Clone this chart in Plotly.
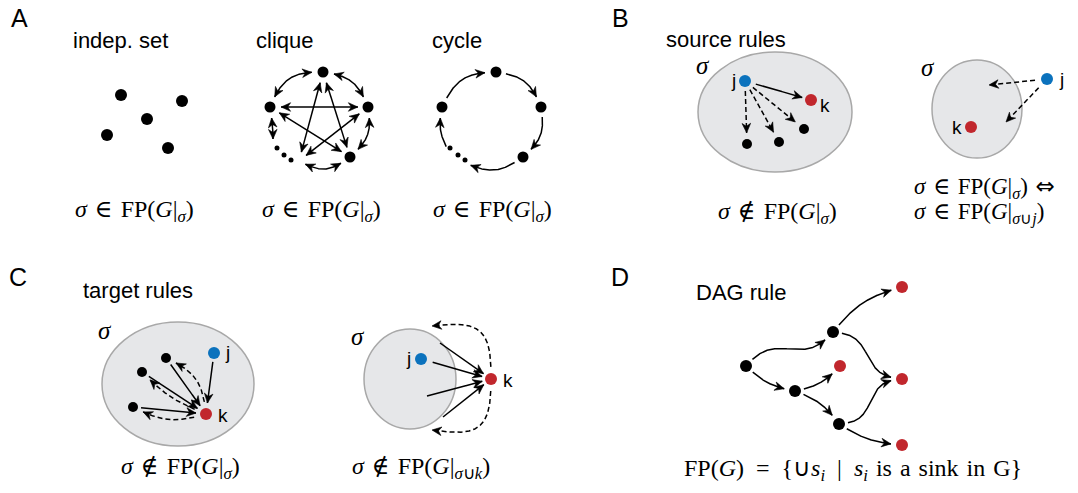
import math
import plotly.graph_objects as go

W, H = 1078, 493

# ---------------- data (pixel coordinates of the figure) ----------------
# A: independent set
indep_x = [121, 182, 147, 107, 168]
indep_y = [95, 101, 119, 135, 148]

# A: clique  -> T, R, BR, BL(hidden), L, dots-end(hidden)
clique_x = [323, 368, 350, 299, 270, 273]
clique_y = [72, 107, 157, 161, 107, 146]
clique_shown = [0, 1, 2, 4]
clique_star = [(0, 3), (0, 2), (4, 1), (4, 2), (1, 3)]
clique_ring = [(4, 0), (0, 1), (1, 2), (2, 3), (4, 5)]
clique_dots_x = [277, 284, 291]
clique_dots_y = [148, 155, 160]

# A: cycle -> L, T, R, BR, hidden, hidden
cycle_x = [442, 496, 541, 523, 465, 449]
cycle_y = [107, 72, 107, 157, 163, 152]
cycle_shown = [0, 1, 2, 3]
cycle_edges = [(0, 1), (1, 2), (2, 3), (3, 4), (5, 0)]
cycle_dots_x = [450, 458, 465]
cycle_dots_y = [148, 155, 160]

# sets (sigma): B left, B right, C left, C right
set_cx = [775, 977, 178, 410]
set_cy = [112, 109, 384, 379]
set_rx = [77, 45, 76, 46]
set_ry = [60, 49, 62, 50]

# B: source rules
b1_j = (745, 81)
b1_k = (811, 100)
b1_x = [747, 779, 804]
b1_y = [144, 142, 129]
b2_j = (1047, 79)
b2_k = (971, 127)
b2_tip_x = [989, 1006]
b2_tip_y = [85, 122]

# C: target rules
c1_j = (214, 353)
c1_k = (206, 414)
c1_x = [166, 142, 133]
c1_y = [358, 372, 407]
c2_j = (421, 359)
c2_k = (491, 379)
c2_src_x = [440, 427, 443]
c2_src_y = [343, 396, 417]
c2_tip_x = [432, 432]
c2_tip_y = [326, 430]

# D: DAG rule
dag_x = [746, 833, 795, 839, 902, 840, 902, 902]
dag_y = [366, 332, 391, 424, 287, 366, 379, 445]
dag_sink = [0, 0, 0, 0, 1, 1, 1, 1]
dag_edges = [(0, 1), (0, 2), (1, 4), (1, 6), (2, 5), (2, 3), (3, 6), (3, 7)]

# ---------------- styles ----------------
BLUE = "#0b72bd"
RED = "#c1272d"
SANS = "Liberation Sans, Arial, sans-serif"
SERIF = "Liberation Serif, Times New Roman, serif"
DASH = "5px,3px"
SP = "\u2004"   # 1/3 em
EN = "\u2002"   # 1/2 em

clique_ring_bow = [13, 10, 9, 10, 1]
cycle_bow = [12, 10, 9, 10, 5]
c1_bow = [-12, 5, 9]
c2_bow = [-28, 28]
dag_bow = [0, -5, 8, 0, -5, 5, 0, -5]
dag_s = [7, 0, 0, 7, 0, 0, -7, 0]

fig = go.Figure()
heads_x, heads_y = [], []


def head(tip, back):
    ux, uy = tip[0] - back[0], tip[1] - back[1]
    n = math.hypot(ux, uy)
    ux, uy = ux / n, uy / n
    vx, vy = -uy, ux
    hl, hw, hn = 9.5, 4.3, 6.5
    pts = [tip,
           (tip[0] - hl * ux + hw * vx, tip[1] - hl * uy + hw * vy),
           (tip[0] - hn * ux, tip[1] - hn * uy),
           (tip[0] - hl * ux - hw * vx, tip[1] - hl * uy - hw * vy),
           tip]
    heads_x.extend([p[0] for p in pts] + [None])
    heads_y.extend([p[1] for p in pts] + [None])


def back_point(pts, from_end):
    seq = pts[::-1] if from_end else pts
    tip = seq[0]
    for p in seq:
        if math.hypot(p[0] - tip[0], p[1] - tip[1]) >= 5:
            return p
    return seq[-1]


def edge(p0, p1, bow=0, s=0, g0=10, g1=10, dash=None, heads="end"):
    x0, y0 = p0
    x1, y1 = p1
    dx, dy = x1 - x0, y1 - y0
    L = math.hypot(dx, dy)
    nx, ny = dy / L, -dx / L
    pts = []
    for i in range(301):
        t = i / 300
        off = bow * math.sin(math.pi * t) + s * math.sin(2 * math.pi * t)
        x = x0 + dx * t + nx * off
        y = y0 + dy * t + ny * off
        if math.hypot(x - x0, y - y0) >= g0 and math.hypot(x - x1, y - y1) >= g1:
            pts.append((x, y))
    fig.add_trace(go.Scatter(x=[p[0] for p in pts], y=[p[1] for p in pts], mode="lines",
                             line=dict(color="black", width=1.5, dash=dash),
                             hoverinfo="skip", showlegend=False))
    if "end" in heads:
        head(pts[-1], back_point(pts, True))
    if "start" in heads:
        head(pts[0], back_point(pts, False))


def nodes(xs, ys, color, size=11):
    fig.add_trace(go.Scatter(x=xs, y=ys, mode="markers",
                             marker=dict(color=color, size=size, line=dict(width=0)),
                             hoverinfo="skip", showlegend=False))


def text(x, y, s, size, family=SANS, xanchor="center"):
    fig.add_annotation(x=x, y=y, xref="x", yref="y", text=s, showarrow=False,
                       font=dict(family=family, size=size, color="black"),
                       xanchor=xanchor, yanchor="middle")


# sets
for cx, cy, rx, ry in zip(set_cx, set_cy, set_rx, set_ry):
    fig.add_shape(type="circle", xref="x", yref="y", x0=cx - rx, x1=cx + rx, y0=cy - ry, y1=cy + ry,
                  fillcolor="#e6e7e9", line=dict(color="#a8a8a8", width=1.5), layer="below")

# ---- A ----
nodes(indep_x, indep_y, "black", 12)

P = list(zip(clique_x, clique_y))
for a, b in clique_star:
    g1 = 10 if b != 3 else 9
    edge(P[a], P[b], g0=11, g1=g1, heads="end+start")
for (a, b), bw in zip(clique_ring, clique_ring_bow):
    g1 = 7 if b in (3, 5) else 11
    edge(P[a], P[b], bow=bw, g0=11, g1=g1, heads="end+start")
nodes([clique_x[i] for i in clique_shown], [clique_y[i] for i in clique_shown], "black", 11)
nodes(clique_dots_x, clique_dots_y, "black", 5)

P = list(zip(cycle_x, cycle_y))
for (a, b), bw in zip(cycle_edges, cycle_bow):
    g0 = 6 if a in (4, 5) else 10
    g1 = 6 if b in (4, 5) else 11
    edge(P[a], P[b], bow=bw, g0=g0, g1=g1)
nodes([cycle_x[i] for i in cycle_shown], [cycle_y[i] for i in cycle_shown], "black", 11)
nodes(cycle_dots_x, cycle_dots_y, "black", 5)

# ---- B ----
edge(b1_j, b1_k, g0=11, g1=9)
for x, y in zip(b1_x, b1_y):
    edge(b1_j, (x, y), g0=10, g1=11, dash=DASH)
nodes(b1_x, b1_y, "black", 10)
for x, y in zip(b2_tip_x, b2_tip_y):
    edge(b2_j, (x, y), g0=12, g1=0, dash=DASH)

# ---- C ----
for (x, y), bw in zip(zip(c1_x, c1_y), c1_bow):
    edge((x, y), c1_k, g0=8, g1=10)
    edge(c1_k, (x, y), bow=bw, g0=12, g1=11, dash=DASH)
edge(c1_j, c1_k, g0=9, g1=11)
nodes(c1_x, c1_y, "black", 10)
for x, y in zip(c2_src_x, c2_src_y):
    edge((x, y), c2_k, g0=0, g1=9)
edge(c2_j, c2_k, g0=12, g1=9)
for (x, y), bw in zip(zip(c2_tip_x, c2_tip_y), c2_bow):
    edge(c2_k, (x, y), bow=bw, g0=12, g1=0, dash=DASH)

# ---- D ----
P = list(zip(dag_x, dag_y))
for (a, b), bw, sw in zip(dag_edges, dag_bow, dag_s):
    edge(P[a], P[b], bow=bw, s=sw, g0=9, g1=11)
nodes([x for x, k in zip(dag_x, dag_sink) if not k], [y for y, k in zip(dag_y, dag_sink) if not k], "black", 12)

# arrow heads (filled, barbed)
fig.add_trace(go.Scatter(x=heads_x, y=heads_y, mode="lines", fill="toself", fillcolor="black",
                         line=dict(color="black", width=0.6), hoverinfo="skip", showlegend=False))

# coloured nodes on top
nodes([b1_j[0], b2_j[0], c1_j[0], c2_j[0]], [b1_j[1], b2_j[1], c1_j[1], c2_j[1]], BLUE, 12)
nodes([b1_k[0], b2_k[0], c1_k[0], c2_k[0]] + [x for x, k in zip(dag_x, dag_sink) if k],
      [b1_k[1], b2_k[1], c1_k[1], c2_k[1]] + [y for y, k in zip(dag_y, dag_sink) if k], RED, 12)

# ---- texts ----
for x, y, s in [(19, 18, "A"), (620, 18, "B"), (18, 277, "C"), (620, 277, "D")]:
    text(x, y, s, 25)
for x, y, s in [(120, 40, "indep. set"), (284, 40, "clique"), (457, 40, "cycle"),
                (726, 39, "source rules"), (138, 290, "target rules"), (741, 292, "DAG rule")]:
    text(x, y, s, 22)

for x, y in [(703, 65), (928, 67), (105, 330), (358, 336)]:
    text(x, y, "<i>σ</i>", 25, SERIF)
for x, y, s in [(733, 80, "j"), (825, 105, "k"), (1061, 79, "j"), (957, 127, "k"),
                (227, 352, "j"), (223, 415, "k"), (408, 358, "j"), (508, 380, "k")]:
    text(x, y, s, 19)

EL = '<span style="font-family:DejaVu Serif">∈</span>'
NEL = '<span style="font-family:DejaVu Serif">∉</span>'
IFF = '<span style="font-family:DejaVu Sans">⇔</span>'
SIG = "<i>σ</i>"
REST = "FP(<i>G</i>|<sub><i>σ</i></sub>)"
IN = SIG + SP + EL + SP + REST
NIN = SIG + SP + NEL + SP + REST
for x in [134, 321, 492]:
    text(x, 210, IN, 24, SERIF)
text(777, 212, NIN, 24, SERIF)
text(912, 187, IN + SP + IFF, 23, SERIF, xanchor="left")
text(912, 213, SIG + SP + EL + SP + "FP(<i>G</i>|<sub><i>σ</i>∪<i>j</i></sub>)", 23, SERIF, xanchor="left")
text(180, 467, NIN, 24, SERIF)
text(421, 467, SIG + SP + NEL + SP + "FP(<i>G</i>|<sub><i>σ</i>∪<i>k</i></sub>)", 24, SERIF)
text(853, 470, "FP(<i>G</i>)" + EN + "=" + EN + "{∪<i>s</i><sub><i>i</i></sub>" + EN + "|" + EN
     + "<i>s</i><sub><i>i</i></sub>" + SP + SP.join(["is", "a", "sink", "in", "G}"]), 24, SERIF)

fig.update_layout(width=W, height=H, margin=dict(l=0, r=0, t=0, b=0),
                  paper_bgcolor="white", plot_bgcolor="white",
                  xaxis=dict(range=[0, W], visible=False, fixedrange=True),
                  yaxis=dict(range=[H, 0], visible=False, fixedrange=True))
fig.write_html("out.html", config={"displayModeBar": False},
               post_script="document.body.style.margin='0';")
